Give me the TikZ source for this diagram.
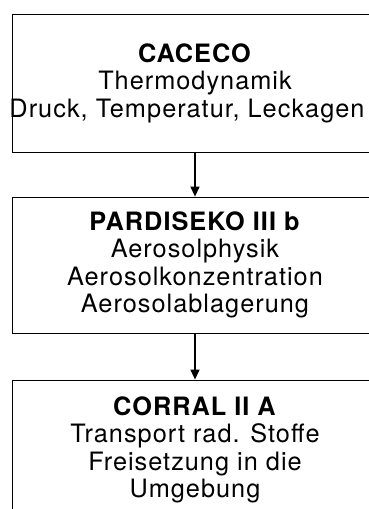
\documentclass[tikz,border=0pt]{standalone}
\usepackage{fontspec}
\setmainfont{TeX Gyre Heros}[LetterSpace=4]
\usetikzlibrary{arrows.meta}

\tikzset{
  codebox/.style={draw, line width=0.8pt, minimum width=366pt, align=center,
    inner sep=0pt, font=\fontsize{25.3}{27.5}\selectfont},
  flow/.style={line width=1.3pt, -{Triangle[length=10pt,width=9pt]}}
}

\begin{document}
\begin{tikzpicture}
    \useasboundingbox (0,0) rectangle (368pt,-509pt);

    \node[codebox, minimum height=138pt] (caceco) at (195pt,-83pt)
        {\textbf{CACECO}\\Thermodynamik\\\makebox[0pt]{\hspace*{-16pt}Druck, Temperatur, Leckagen}};
    \node[codebox, minimum height=136pt] (pardiseko) at (195pt,-265pt)
        {\textbf{PARDISEKO III b}\\Aerosolphysik\\Aerosolkonzentration\\Aerosolablagerung};
    \node[codebox, minimum height=140pt] (corral) at (195pt,-450pt)
        {\textbf{CORRAL II A}\\Transport rad. Stoffe\\Freisetzung in die\\Umgebung};

    \draw[flow] (caceco) -- (pardiseko);
    \draw[flow] (pardiseko) -- (corral);
\end{tikzpicture}
\end{document}
